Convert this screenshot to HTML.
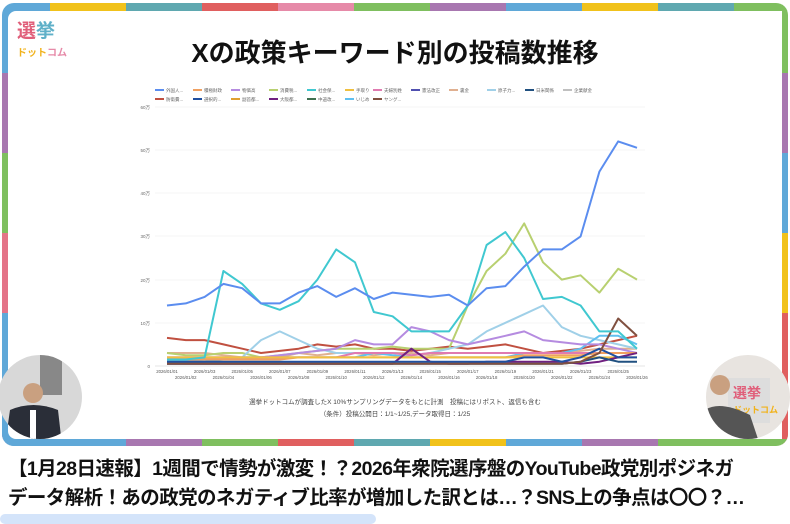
<!DOCTYPE html>
<html><head><meta charset="utf-8"><style>
body{margin:0;width:790px;height:519px;background:#fff;overflow:hidden;position:relative;font-family:"Liberation Sans","Noto Sans CJK JP",sans-serif}
.frame{position:absolute;left:2px;top:3px;width:786px;height:443px;border-radius:12px;overflow:hidden}
.t{position:absolute;left:0;top:0;width:790px;text-align:center;font-weight:bold}
</style></head><body>
<div class="frame">
<svg width="786" height="443" style="position:absolute;left:0;top:0">
<g>
<rect x="0" y="0" width="48" height="443" fill="#5fa8d8"/>
<rect x="0" y="70" width="6" height="373" fill="#a877b0"/>
<rect x="0" y="150" width="6" height="80" fill="#7fbf5f"/>
<rect x="0" y="230" width="6" height="80" fill="#e47488"/>
<rect x="0" y="310" width="6" height="133" fill="#5fa8d8"/>
<rect x="780" y="0" width="6" height="443" fill="#7fbf5f"/>
<rect x="780" y="70" width="6" height="80" fill="#a877b0"/>
<rect x="780" y="150" width="6" height="80" fill="#5fa8d8"/>
<rect x="780" y="230" width="6" height="80" fill="#f1c21b"/>
<rect x="780" y="310" width="6" height="133" fill="#e05f5f"/>
<rect x="48" y="0" width="76" height="8" fill="#f1c21b"/>
<rect x="124" y="0" width="76" height="8" fill="#5fa8b0"/>
<rect x="200" y="0" width="76" height="8" fill="#e05f5f"/>
<rect x="276" y="0" width="76" height="8" fill="#e68aa8"/>
<rect x="352" y="0" width="76" height="8" fill="#7fbf5f"/>
<rect x="428" y="0" width="76" height="8" fill="#a877b0"/>
<rect x="504" y="0" width="76" height="8" fill="#5fa8d8"/>
<rect x="580" y="0" width="76" height="8" fill="#f1c21b"/>
<rect x="656" y="0" width="76" height="8" fill="#5fa8b0"/>
<rect x="732" y="0" width="54" height="8" fill="#7fbf5f"/>
<rect x="0" y="436" width="124" height="7" fill="#5fa8d8"/>
<rect x="124" y="436" width="76" height="7" fill="#a877b0"/>
<rect x="200" y="436" width="76" height="7" fill="#7fbf5f"/>
<rect x="276" y="436" width="76" height="7" fill="#e05f5f"/>
<rect x="352" y="436" width="76" height="7" fill="#5fa8b0"/>
<rect x="428" y="436" width="76" height="7" fill="#f1c21b"/>
<rect x="504" y="436" width="76" height="7" fill="#5fa8d8"/>
<rect x="580" y="436" width="76" height="7" fill="#a877b0"/>
<rect x="656" y="436" width="130" height="7" fill="#7fbf5f"/>
</g>
<rect x="6" y="8" width="774" height="428" rx="8" fill="#fff"/>
</svg>
</div>
<div style="position:absolute;left:17px;top:22px;font-weight:bold;font-size:19px;color:#e05f7a;line-height:20px">選<span style="color:#5fb0c8">挙</span></div>
<div style="position:absolute;left:17px;top:44px;font-weight:bold;font-size:10px;color:#f1b21b">ドット<span style="color:#e68aa8">コム</span></div>
<div class="t" style="top:33px;font-size:26px;color:#111">Xの政策キーワード別の投稿数推移</div>
<svg width="790" height="519" style="position:absolute;left:0;top:0" font-family="Liberation Sans,Noto Sans CJK JP,sans-serif">
<g font-size="4.5" fill="#666">
<g stroke-width="2">
<line x1="155" y1="90" x2="164" y2="90" stroke="#5b8def"/><text x="166" y="92">外国人...</text>
<line x1="193" y1="90" x2="202" y2="90" stroke="#f0a060"/><text x="204" y="92">積極財政</text>
<line x1="231" y1="90" x2="240" y2="90" stroke="#b58be0"/><text x="242" y="92">物価高</text>
<line x1="269" y1="90" x2="278" y2="90" stroke="#b8d070"/><text x="280" y="92">消費税...</text>
<line x1="307" y1="90" x2="316" y2="90" stroke="#40c8d0"/><text x="318" y="92">社会保...</text>
<line x1="345" y1="90" x2="354" y2="90" stroke="#f0c040"/><text x="356" y="92">手取り</text>
<line x1="373" y1="90" x2="382" y2="90" stroke="#e07ab0"/><text x="384" y="92">夫婦別姓</text>
<line x1="411" y1="90" x2="420" y2="90" stroke="#5050b0"/><text x="422" y="92">憲法改正</text>
<line x1="449" y1="90" x2="458" y2="90" stroke="#e0b090"/><text x="460" y="92">裏金</text>
<line x1="487" y1="90" x2="496" y2="90" stroke="#a0d0e8"/><text x="498" y="92">原子力...</text>
<line x1="525" y1="90" x2="534" y2="90" stroke="#205080"/><text x="536" y="92">日米関係</text>
<line x1="563" y1="90" x2="572" y2="90" stroke="#c0c0c0"/><text x="574" y="92">企業献金</text>
<line x1="155" y1="99" x2="164" y2="99" stroke="#c05040"/><text x="166" y="101">防衛費...</text>
<line x1="193" y1="99" x2="202" y2="99" stroke="#2050a0"/><text x="204" y="101">選択的...</text>
<line x1="231" y1="99" x2="240" y2="99" stroke="#e0a030"/><text x="242" y="101">副首都...</text>
<line x1="269" y1="99" x2="278" y2="99" stroke="#702080"/><text x="280" y="101">大阪都...</text>
<line x1="307" y1="99" x2="316" y2="99" stroke="#407050"/><text x="318" y="101">中道改...</text>
<line x1="345" y1="99" x2="354" y2="99" stroke="#60c0f0"/><text x="356" y="101">いじめ</text>
<line x1="373" y1="99" x2="382" y2="99" stroke="#805040"/><text x="384" y="101">ヤング...</text>
</g>
<text x="150" y="109" text-anchor="end">60万</text>
<text x="150" y="152" text-anchor="end">50万</text>
<text x="150" y="195" text-anchor="end">40万</text>
<text x="150" y="238" text-anchor="end">30万</text>
<text x="150" y="282" text-anchor="end">20万</text>
<text x="150" y="325" text-anchor="end">10万</text>
<text x="150" y="368" text-anchor="end">0</text>
</g>
<g stroke="#eee" stroke-width="0.6">
<line x1="155" y1="107" x2="645" y2="107"/><line x1="155" y1="150" x2="645" y2="150"/><line x1="155" y1="193" x2="645" y2="193"/><line x1="155" y1="236" x2="645" y2="236"/><line x1="155" y1="280" x2="645" y2="280"/><line x1="155" y1="323" x2="645" y2="323"/>
</g>
<line x1="155" y1="366" x2="645" y2="366" stroke="#ccc" stroke-width="0.6"/>
<g id="lines" fill="none" stroke-width="2" stroke-linejoin="round"></g>
<g id="xt" font-size="4.3" fill="#555" text-anchor="middle"></g>
<text x="395" y="404" font-size="6.5" text-anchor="middle" fill="#444">選挙ドットコムが調査したX 10%サンプリングデータをもとに計測　投稿にはリポスト、返信も含む</text>
<text x="395" y="416" font-size="6.5" text-anchor="middle" fill="#444">（条件）投稿公開日：1/1~1/25,データ取得日：1/25</text>
<g>
<clipPath id="cl"><circle cx="40" cy="397" r="42"/></clipPath>
<g clip-path="url(#cl)"><rect x="0" y="350" width="85" height="95" fill="#d8d8d8"/><rect x="40" y="355" width="22" height="40" fill="#888"/><circle cx="33" cy="393" r="10" fill="#c9a080"/><path d="M5 445 L10 410 Q33 400 58 410 L62 445 Z" fill="#2a2e38"/><rect x="30" y="410" width="6" height="30" fill="#fff"/></g>
<clipPath id="cr"><circle cx="748" cy="397" r="42"/></clipPath>
<g clip-path="url(#cr)"><rect x="700" y="350" width="90" height="95" fill="#e8e4e0"/><rect x="728" y="378" width="42" height="45" fill="#ddd"/><text x="733" y="398" font-size="14" font-weight="bold" fill="#e05f7a">選挙</text><text x="733" y="413" font-size="9" font-weight="bold" fill="#f1b21b">ドットコム</text><circle cx="720" cy="385" r="10" fill="#c9a080"/><path d="M700 445 L705 410 Q720 400 750 415 L760 445 Z" fill="#555"/></g>
</g>
</svg>
<div style="position:absolute;left:8px;top:455px;font-weight:bold;font-size:19.5px;line-height:29px;color:#111;white-space:nowrap;letter-spacing:-0.6px">【1月28日速報】1週間で情勢が激変！？2026年衆院選序盤のYouTube政党別ポジネガ<br>データ解析！あの政党のネガティブ比率が増加した訳とは…？SNS上の争点は〇〇？…</div>
<div style="position:absolute;left:0;top:514px;width:376px;height:10px;border-radius:6px;background:#d4e4fa"></div>
<script>
const X0=167,DX=18.8,Y0=366,K=4.32;
const S=[
["#c05040",[6.5,6,6,5,4,3,3.5,4,5,4.5,5,4,4,3.5,4,4.5,4,4.5,5,4,3,3.5,4,5,6,7]],
["#e0b090",[3,3,3,2.5,2,2,2,3,2.5,3,3,2.5,3,3,2.5,3,3,3,3,3,3,3,3.5,4,4,4]],
["#b8d070",[3,2.5,2.5,3,3,2,2.5,3,3.5,4,4,4,4.5,4,4,4,14,22,26,33,24,20,21,17,22.5,20]],
["#a0d0e8",[1,1,1.5,1.5,2,6,8,6,4,3,3,3,3,2.5,3,4,5,8,10,12,14,9,7,6,5,4]],
["#60c0f0",[1,1,1,1.5,2,2,2,2,2,2,2,3,2.5,2,2,2,2,2,2,3,3,3,4,7,7,5]],
["#b58be0",[2,2,2,2,2,2,2.5,3,3.5,4,6,5,5,9,8,6,5,6,7,8,6,5.5,5,5,4,3]],
["#e07ab0",[2,2,2,2,1.5,2,2,2,2,2,3,3,3,2.5,3,3,3,3,3,3,3,3,3,3,3,3]],
["#f0a060",[1.5,1.5,1.5,1.5,1.5,1.5,1.5,2,2,2,2,2,2,2,2,2,2,2,2,2.5,2.5,2.5,2.5,3,3,3]],
["#f0c040",[2,2,2,2,2,2,2,2,2,2,2,2,2,2,2,2,2,2,2,2,2,2,2,2,2,2]],
["#702080",[0.5,0.5,0.5,0.5,0.5,0.5,0.5,0.5,0.5,0.5,0.5,0.5,0.5,4,1,0.5,0.5,1,1,1,1,1,0.5,1,2,3]],
["#2050a0",[1,1,1,1,1,1,1,1,1,1,1,1,1,1,1,1,1,1,1,2,2,1,2,4,2,2]],
["#205080",[0.5,0.5,0.5,0.5,0.5,0.5,0.5,0.5,0.5,0.5,0.5,0.5,0.5,0.5,0.5,0.5,0.5,0.5,0.5,0.5,0.5,0.5,1,2,1,1]],
["#805040",[0.5,0.5,0.5,0.5,0.5,0.5,0.5,0.5,0.5,0.5,0.5,0.5,0.5,0.5,0.5,0.5,0.5,0.5,0.5,0.5,0.5,0.5,1,3,11,7]],
["#40c8d0",[1.5,1.5,2,22,19,14.5,13,15,20,27,24,12.5,11.5,8,8,8,14,28,31,25,15.5,16,14,8,8,4]],
["#5b8def",[14,14.5,16,19,18,14.5,14.5,17,18.5,16,18,15.5,17,16.5,16,16.5,14,18,18.5,23,27,27,30,45,52,50.5]]];
let h="";for(const[c,d]of S){h+=`<polyline stroke="${c}" points="${d.map((v,i)=>(X0+i*DX).toFixed(1)+","+(Y0-v*K).toFixed(1)).join(" ")}"/>`;}
document.getElementById("lines").innerHTML=h;
let t="";for(let i=0;i<26;i++){const d="2026/01/"+String(i+1).padStart(2,"0");t+=`<text x="${X0+i*DX}" y="${i%2?379:373}">${d}</text>`;}
document.getElementById("xt").innerHTML=t;
</script>
</body></html>
